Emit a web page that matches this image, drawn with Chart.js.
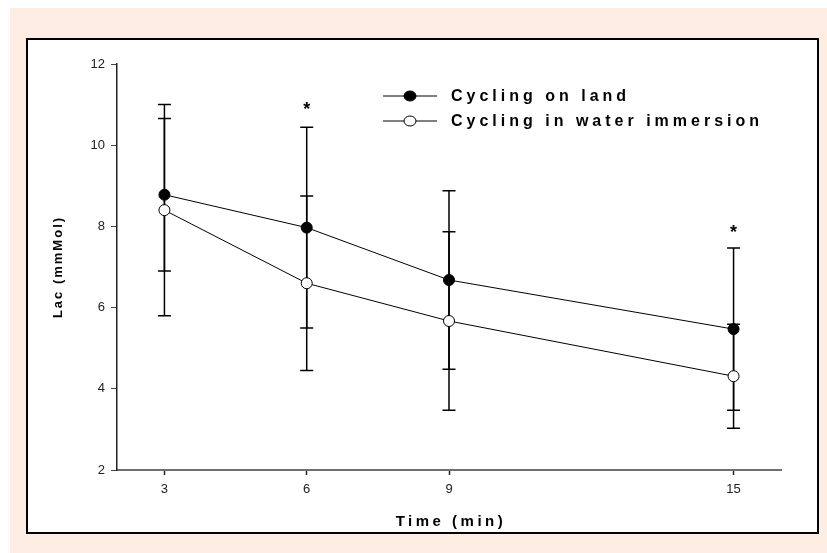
<!DOCTYPE html>
<html>
<head>
<meta charset="utf-8">
<script src="https://cdn.jsdelivr.net/npm/chart.js@4.4.1/dist/chart.umd.min.js"></script>
<style>
  html, body { margin: 0; padding: 0; background: #fff; }
  #lacChart { display: block; }
</style>
</head>
<body>
<canvas id="lacChart" width="827" height="553"></canvas>
<script>
// Data
const times = [3, 6, 9, 15];
const xTicks = [3, 6, 9, 15];
const landMean = [8.78, 7.97, 6.68, 5.47];
const landSd = [1.88, 2.47, 2.2, 2.0];
const waterMean = [8.4, 6.6, 5.67, 4.31];
const waterSd = [2.6, 2.15, 2.2, 1.28];
// significance marks (x, y in data units)
const starX = [6, 15];
const starY = [11.0, 7.95];

const labelLand = "Cycling on land";
const labelWater = "Cycling in water immersion";

const toPoints = (ys) => times.map((t, i) => ({ x: t, y: ys[i] }));

// Page background + framed panel
const backgroundPlugin = {
  id: "background",
  beforeDraw(chart) {
    const ctx = chart.ctx;
    ctx.save();
    ctx.fillStyle = "#ffffff";
    ctx.fillRect(0, 0, chart.width, chart.height);
    ctx.fillStyle = "#fdede3";
    ctx.fillRect(10, 8, chart.width - 10, chart.height - 8);
    ctx.fillStyle = "#ffffff";
    ctx.fillRect(27, 39, 791, 494);
    ctx.strokeStyle = "#000";
    ctx.lineWidth = 2;
    ctx.strokeRect(27, 39, 791, 494);
    ctx.restore();
  }
};

// Error bars drawn below the points
const errorBarPlugin = {
  id: "errorBars",
  beforeDatasetsDraw(chart) {
    const ctx = chart.ctx;
    const xs = chart.scales.x;
    const ys = chart.scales.y;
    ctx.save();
    ctx.strokeStyle = "#000";
    ctx.lineWidth = 1.5;
    const draw = (means, sds) => {
      means.forEach((m, i) => {
        const px = xs.getPixelForValue(times[i]);
        const top = ys.getPixelForValue(m + sds[i]);
        const bot = ys.getPixelForValue(m - sds[i]);
        ctx.beginPath();
        ctx.moveTo(px, top);
        ctx.lineTo(px, bot);
        ctx.moveTo(px - 6.5, top);
        ctx.lineTo(px + 6.5, top);
        ctx.moveTo(px - 6.5, bot);
        ctx.lineTo(px + 6.5, bot);
        ctx.stroke();
      });
    };
    draw(landMean, landSd);
    draw(waterMean, waterSd);
    ctx.restore();
  }
};

// Asterisks, legend and axis titles
const annotationPlugin = {
  id: "annotations",
  afterDraw(chart) {
    const ctx = chart.ctx;
    const xs = chart.scales.x;
    const ys = chart.scales.y;
    const area = chart.chartArea;
    ctx.save();
    ctx.fillStyle = "#000";

    // asterisks
    ctx.font = "bold 18px Arial, 'Liberation Sans', sans-serif";
    ctx.textAlign = "center";
    ctx.textBaseline = "alphabetic";
    starX.forEach((sx, i) => {
      ctx.fillText("*", xs.getPixelForValue(sx), ys.getPixelForValue(starY[i]) + 10);
    });

    // legend
    const rows = [
      { label: labelLand, fill: "#000", y: 96 },
      { label: labelWater, fill: "#fff", y: 121 }
    ];
    rows.forEach((r) => {
      ctx.strokeStyle = "#000";
      ctx.lineWidth = 1;
      ctx.beginPath();
      ctx.moveTo(383, r.y);
      ctx.lineTo(437, r.y);
      ctx.stroke();
      ctx.beginPath();
      ctx.ellipse(410, r.y, 6, 5, 0, 0, Math.PI * 2);
      ctx.fillStyle = r.fill;
      ctx.fill();
      ctx.stroke();
      ctx.fillStyle = "#000";
      ctx.font = "bold 16px Arial, 'Liberation Sans', sans-serif";
      ctx.letterSpacing = "4px";
      ctx.textAlign = "left";
      ctx.textBaseline = "middle";
      ctx.fillText(r.label, 451, r.y + 1);
      ctx.letterSpacing = "0px";
    });

    // x title
    ctx.font = "bold 15px Arial, 'Liberation Sans', sans-serif";
    ctx.letterSpacing = "3.5px";
    ctx.textAlign = "center";
    ctx.textBaseline = "middle";
    ctx.fillText("Time (min)", (area.left + area.right) / 2 + 2, 522);

    // y title
    ctx.font = "bold 13px Arial, 'Liberation Sans', sans-serif";
    ctx.letterSpacing = "2px";
    ctx.translate(58, (area.top + area.bottom) / 2);
    ctx.rotate(-Math.PI / 2);
    ctx.fillText("Lac (mmMol)", 0, 0);
    ctx.restore();
  }
};

const lacChart = new Chart(document.getElementById("lacChart"), {
  type: "line",
  data: {
    datasets: [
      {
        label: labelWater,
        data: toPoints(waterMean),
        borderColor: "#000",
        borderWidth: 1,
        pointBackgroundColor: "#fff",
        pointBorderColor: "#000",
        pointBorderWidth: 1,
        pointRadius: 5.5,
        tension: 0,
        fill: false
      },
      {
        label: labelLand,
        data: toPoints(landMean),
        borderColor: "#000",
        borderWidth: 1,
        pointBackgroundColor: "#000",
        pointBorderColor: "#000",
        pointBorderWidth: 1,
        pointRadius: 5.5,
        tension: 0,
        fill: false
      }
    ]
  },
  options: {
    responsive: false,
    animation: false,
    devicePixelRatio: 1,
    layout: { padding: { left: 0, right: 46, top: 64, bottom: 0 } },
    plugins: {
      legend: { display: false },
      tooltip: { enabled: false }
    },
    scales: {
      x: {
        type: "linear",
        min: 2,
        max: 16,
        afterBuildTicks: (s) => { s.ticks = xTicks.map((v) => ({ value: v })); },
        afterFit: (s) => { s.height = 83; },
        border: { display: true, color: "#707070", width: 2 },
        grid: { drawOnChartArea: false, tickLength: 5, color: "#222", tickWidth: 1.5 },
        ticks: {
          color: "#222",
          padding: 7,
          font: { family: "Arial, 'Liberation Sans', sans-serif", size: 13 }
        }
      },
      y: {
        min: 2,
        max: 12,
        afterFit: (s) => { s.width = 117; },
        border: { display: true, color: "#222", width: 1.5 },
        grid: { drawOnChartArea: false, tickLength: 6, color: "#444", tickWidth: 1 },
        ticks: {
          stepSize: 2,
          color: "#222",
          padding: 6,
          font: { family: "Arial, 'Liberation Sans', sans-serif", size: 13 }
        }
      }
    }
  },
  plugins: [backgroundPlugin, errorBarPlugin, annotationPlugin]
});
</script>
</body>
</html>
